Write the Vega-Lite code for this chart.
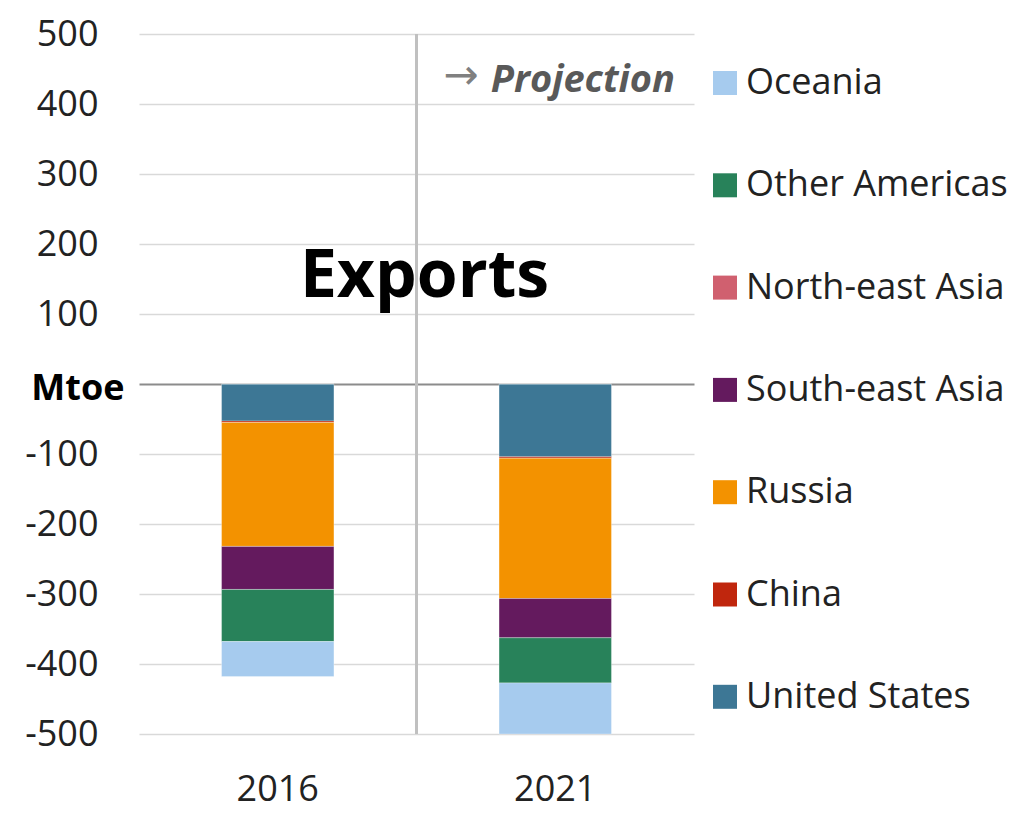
{
  "$schema": "https://vega.github.io/schema/vega-lite/v6.json",
  "autosize": "none",
  "width": 555,
  "height": 700,
  "padding": {"left": 139, "top": 34, "right": 337, "bottom": 83},
  "background": "white",
  "config": {
    "view": {"stroke": null},
    "font": "Open Sans",
    "axis": {"labelFont": "Open Sans", "labelColor": "#222222", "labelFontSize": 36}
  },
  "datasets": {
    "main": [
      {"year": "2016", "region": "United States", "k": 1, "value": -53},
      {"year": "2016", "region": "China", "k": 2, "value": -2},
      {"year": "2016", "region": "Russia", "k": 3, "value": -177},
      {"year": "2016", "region": "South-east Asia", "k": 4, "value": -61.5},
      {"year": "2016", "region": "North-east Asia", "k": 5, "value": 0},
      {"year": "2016", "region": "Other Americas", "k": 6, "value": -74.5},
      {"year": "2016", "region": "Oceania", "k": 7, "value": -50},
      {"year": "2021", "region": "United States", "k": 1, "value": -104},
      {"year": "2021", "region": "China", "k": 2, "value": -2},
      {"year": "2021", "region": "Russia", "k": 3, "value": -200.5},
      {"year": "2021", "region": "South-east Asia", "k": 4, "value": -56},
      {"year": "2021", "region": "North-east Asia", "k": 5, "value": 0},
      {"year": "2021", "region": "Other Americas", "k": 6, "value": -64.5},
      {"year": "2021", "region": "Oceania", "k": 7, "value": -73}
    ]
  },
  "encoding": {
    "x": {
      "field": "year",
      "type": "nominal",
      "scale": {"domain": ["2016", "2021"], "paddingInner": 0, "paddingOuter": 0},
      "axis": {"title": null, "labelAngle": 0, "domain": false, "ticks": false, "labelPadding": 38}
    }
  },
  "layer": [
    {
      "data": {"name": "main"},
      "mark": {"type": "bar", "width": {"band": 0.405}, "stroke": "white", "strokeWidth": 0.6, "strokeOpacity": 0.5},
      "encoding": {
        "y": {
          "field": "value",
          "type": "quantitative",
          "stack": "zero",
          "scale": {"domain": [-500, 500], "nice": false},
          "axis": {
            "title": null,
            "values": [-500, -400, -300, -200, -100, 0, 100, 200, 300, 400, 500],
            "domain": false,
            "ticks": false,
            "grid": true,
            "gridColor": {"condition": {"test": "datum.value == 0", "value": "#8c8c8c"}, "value": "#d9d9d9"},
            "gridWidth": {"condition": {"test": "datum.value == 0", "value": 2}, "value": 1.5},
            "labelExpr": "datum.value == 0 ? 'Mtoe' : '' + datum.value",
            "labelFontWeight": {"condition": {"test": "datum.value == 0", "value": "bold"}, "value": "normal"},
            "labelColor": {"condition": {"test": "datum.value == 0", "value": "#000000"}, "value": "#222222"},
            "labelPadding": {"condition": {"test": "datum.value == 0", "value": 15}, "value": 41},
            "labelOffset": {"condition": {"test": "datum.value == 0", "value": 4}, "value": 0}
          }
        },
        "color": {
          "field": "region",
          "type": "nominal",
          "scale": {
            "domain": ["Oceania", "Other Americas", "North-east Asia", "South-east Asia", "Russia", "China", "United States"],
            "range": ["#a6cbee", "#28825a", "#d0606f", "#641a5e", "#f39200", "#c0260d", "#3d7795"]
          },
          "legend": {
            "title": null,
            "orient": "none",
            "legendX": 568,
            "legendY": 31,
            "padding": 0,
            "symbolType": "square",
            "symbolSize": 576,
            "symbolStrokeWidth": 0,
            "labelFont": "Open Sans",
            "labelFontSize": 36,
            "labelColor": "#222222",
            "labelOffset": 3,
            "rowPadding": 66.3,
            "labelLimit": 400
          }
        },
        "order": {"field": "k", "type": "quantitative"}
      }
    },
    {
      "data": {"values": [{"year": "2021"}]},
      "mark": {"type": "rule", "color": "#c0c0c0", "strokeWidth": 3},
      "encoding": {
        "x": {"field": "year", "type": "nominal", "bandPosition": 0},
        "y": {"datum": 500, "type": "quantitative"},
        "y2": {"datum": -500}
      }
    },
    {
      "data": {"values": [{"year": "2021", "label": "Exports", "v": 124}]},
      "mark": {"type": "text", "font": "Open Sans", "fontWeight": "bold", "fontSize": 66, "color": "#000000", "align": "center", "baseline": "alphabetic", "dx": 8},
      "encoding": {
        "x": {"field": "year", "type": "nominal", "bandPosition": 0},
        "y": {"field": "v", "type": "quantitative"},
        "text": {"field": "label"}
      }
    },
    {
      "data": {"values": [{"year": "2021", "label": "→", "v": 440}]},
      "mark": {"type": "text", "font": "DejaVu Sans", "fontSize": 42, "color": "#808080", "align": "left", "baseline": "middle", "dx": 27},
      "encoding": {
        "x": {"field": "year", "type": "nominal", "bandPosition": 0},
        "y": {"field": "v", "type": "quantitative"},
        "text": {"field": "label"}
      }
    },
    {
      "data": {"values": [{"year": "2021", "label": "Projection", "v": 417}]},
      "mark": {"type": "text", "font": "Open Sans", "fontWeight": "bold", "fontStyle": "italic", "fontSize": 38, "color": "#595959", "align": "right", "baseline": "alphabetic", "dx": -19},
      "encoding": {
        "x": {"field": "year", "type": "nominal", "bandPosition": 1},
        "y": {"field": "v", "type": "quantitative"},
        "text": {"field": "label"}
      }
    }
  ]
}
